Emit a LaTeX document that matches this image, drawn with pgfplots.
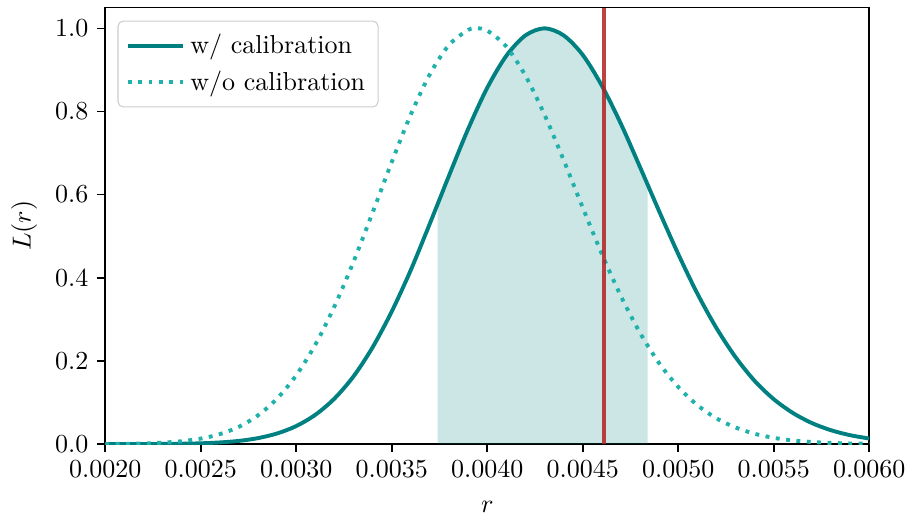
\documentclass[border={1pt 0pt 0pt 2.6pt}]{standalone}
\usepackage{pgfplots}
\pgfplotsset{compat=1.18}
\definecolor{calteal}{RGB}{0,128,128}
\definecolor{nocalteal}{RGB}{32,178,170}
\definecolor{truered}{RGB}{178,34,34}

% likelihood with calibration
\pgfplotstableread{
r L
0.0020 0.0000
0.0021 0.0001
0.0022 0.0002
0.0023 0.0004
0.0024 0.0009
0.0025 0.0019
0.0026 0.0040
0.0027 0.0077
0.0028 0.0144
0.0029 0.0256
0.0030 0.0434
0.0031 0.0705
0.0032 0.1095
0.0033 0.163
0.0034 0.233
0.0035 0.319
0.0036 0.419
0.0037 0.531
0.0038 0.646
0.0039 0.758
0.0040 0.857
0.0041 0.934
0.0042 0.983
0.0043 1.000
0.0044 0.983
0.0045 0.936
0.0046 0.862
0.0047 0.770
0.0048 0.666
0.0049 0.560
0.0050 0.457
0.0051 0.362
0.0052 0.279
0.0053 0.209
0.0054 0.152
0.0055 0.108
0.0056 0.0749
0.0057 0.0505
0.0058 0.0333
0.0059 0.0214
0.0060 0.0134
}\withcal

% likelihood without calibration
\pgfplotstableread{
r L
0.0020 0.0003
0.0021 0.0007
0.0022 0.0016
0.0023 0.0034
0.0024 0.0069
0.0025 0.0132
0.0026 0.0240
0.0027 0.0417
0.0028 0.0692
0.0029 0.1095
0.0030 0.1656
0.0031 0.2393
0.0032 0.3312
0.0033 0.4388
0.0034 0.5572
0.0035 0.6784
0.0036 0.7929
0.0037 0.890
0.0038 0.960
0.0039 0.996
0.003946 1.000
0.0040 0.9945
0.0041 0.956
0.0042 0.886
0.0043 0.792
0.0044 0.683
0.0045 0.5685
0.0046 0.4573
0.0047 0.3556
0.0048 0.2674
0.0049 0.1946
0.0050 0.1373
0.0051 0.0937
0.0052 0.0620
0.0053 0.0399
0.0054 0.0248
0.0055 0.0150
0.0056 0.0088
0.0057 0.0050
0.0058 0.0028
0.0059 0.0015
0.0060 0.0008
}\withoutcal

\begin{document}
\begin{tikzpicture}
\begin{axis}[
    scale only axis,
    width=294pt, height=168pt,
    xmin=0.002, xmax=0.006,
    ymin=0, ymax=1.05,
    xtick={0.002,0.0025,0.003,0.0035,0.004,0.0045,0.005,0.0055,0.006},
    ytick={0,0.2,0.4,0.6,0.8,1.0},
    xtick pos=bottom, ytick pos=left,
    scaled x ticks=false,
    xticklabel style={/pgf/number format/.cd,fixed,fixed zerofill,precision=4},
    yticklabel style={/pgf/number format/.cd,fixed,fixed zerofill,precision=1},
    tick align=outside,
    major tick length=3pt,
    tick style={black, line width=0.6pt},
    axis line style={line width=0.6pt},
    xlabel={$r$}, ylabel={$L(r)$},
    xlabel style={yshift=-2pt},
    legend style={at={(0.016,0.97)}, anchor=north west,
        draw=black!20, rounded corners=2pt, fill=white,
        row sep=1pt, inner sep=3pt},
    legend cell align=left,
    legend image code/.code={\draw[#1] (0cm,0cm) -- (0.75cm,0cm);},
]
% 95% interval shading
\addplot[draw=none, fill=calteal, fill opacity=0.2, forget plot] coordinates {
(0.00374,0) (0.00374,0.577) (0.0038,0.646) (0.0039,0.758) (0.0040,0.857)
(0.0041,0.934) (0.0042,0.983) (0.0043,1.000) (0.0044,0.983) (0.0045,0.936)
(0.0046,0.862) (0.0047,0.770) (0.0048,0.666) (0.00484,0.624) (0.00484,0)
} -- cycle;
\addplot[calteal, line width=1.5pt, smooth] table[x=r, y=L] {\withcal};
\addlegendentry{w/ calibration}
\addplot[nocalteal, line width=1.5pt, dash pattern=on 1.5pt off 2.5pt, smooth] table[x=r, y=L] {\withoutcal};
\addlegendentry{w/o calibration}
% true value
\addplot[truered, opacity=0.85, line width=1.5pt, forget plot] coordinates {(0.00461,0) (0.00461,1.05)};
\end{axis}
\end{tikzpicture}
\end{document}
